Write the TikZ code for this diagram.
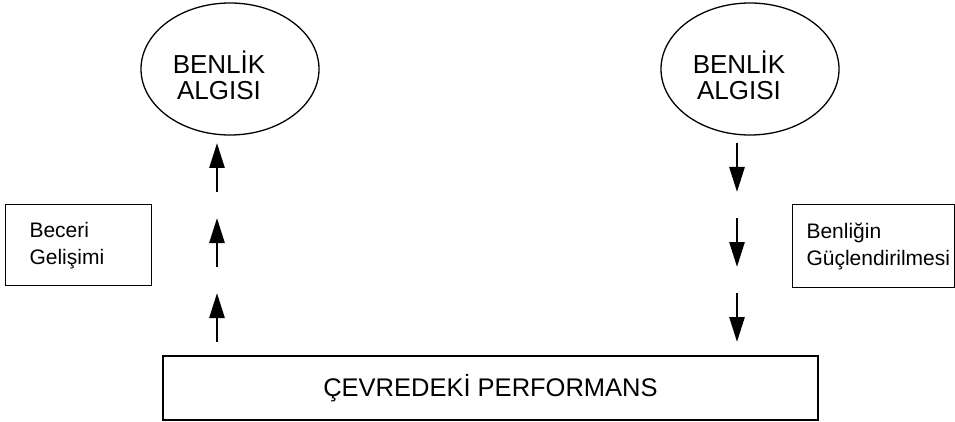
\documentclass[tikz,border=0pt]{standalone}
\usepackage{fontspec}
\setmainfont{Liberation Sans}
\usetikzlibrary{arrows.meta,shapes.geometric}

\tikzset{
  oval/.style={draw, line width=1.3pt, ellipse, minimum width=178pt, minimum height=132pt,
    inner sep=0pt},
  ovaltext/.style={align=center, inner sep=0pt, font=\fontsize{26}{26}\selectfont},
  sidebox/.style={draw, line width=1.3pt, anchor=north west, inner sep=0pt},
  sidetext/.style={anchor=west, font=\fontsize{21}{27}\selectfont, align=left},
  basebox/.style={draw, line width=1.3pt, minimum width=655pt, minimum height=64pt,
    font=\fontsize{25.5}{26}\selectfont},
  flow/.style={line width=2.7pt, -{Triangle[length=25pt,width=15pt]}}
}

\begin{document}
\begin{tikzpicture}[x=1pt,y=-1pt]
  \useasboundingbox (0,0) rectangle (955,422);

  % self-perception ovals
  \node[oval] (selfL) at (230,69) {};
  \node[ovaltext] (selfLt) at (219,75) {BENLİK\\ALGISI};
  \node[oval] (selfR) at (750,69) {};
  \node[ovaltext] (selfRt) at (739,75) {BENLİK\\ALGISI};

  % performance in the environment
  \node[basebox] (perf) at (490.5,388) {ÇEVREDEKİ PERFORMANS};

  % side labels
  \node[sidebox, minimum width=146pt, minimum height=81pt] (skillbox) at (5,204) {};
  \node[sidetext] (skill) at (26,246) {Beceri\\Gelişimi};
  \node[sidebox, minimum width=162pt, minimum height=83pt] (selfbox) at (792,204) {};
  \node[sidetext] (enh) at (803,246) {Benliğin\\Güçlendirilmesi};

  % upward chain on the left
  \coordinate (lu1a) at (217,342); \coordinate (lu1b) at (217,293);
  \coordinate (lu2a) at (217,267); \coordinate (lu2b) at (217,218);
  \coordinate (lu3a) at (217,192); \coordinate (lu3b) at (217,143);
  \draw[flow] (lu1a) -- (lu1b);
  \draw[flow] (lu2a) -- (lu2b);
  \draw[flow] (lu3a) -- (lu3b);

  % downward chain on the right
  \coordinate (rd1a) at (737,143); \coordinate (rd1b) at (737,192);
  \coordinate (rd2a) at (737,218); \coordinate (rd2b) at (737,267);
  \coordinate (rd3a) at (737,293); \coordinate (rd3b) at (737,342);
  \draw[flow] (rd1a) -- (rd1b);
  \draw[flow] (rd2a) -- (rd2b);
  \draw[flow] (rd3a) -- (rd3b);
\end{tikzpicture}
\end{document}
